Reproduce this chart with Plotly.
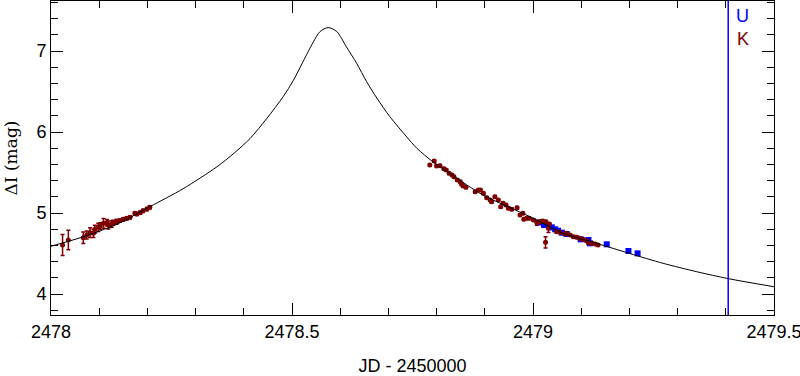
import plotly.graph_objects as go

# Model curve
model_jd = [2478.0, 2478.067, 2478.136, 2478.205, 2478.274, 2478.344, 2478.380, 2478.413, 2478.448,
            2478.482, 2478.503, 2478.523, 2478.544, 2478.558, 2478.575, 2478.593, 2478.613,
            2478.634, 2478.655, 2478.676, 2478.703, 2478.738, 2478.759, 2478.793, 2478.828,
            2478.862, 2478.897, 2478.994, 2479.063, 2479.132, 2479.201, 2479.270, 2479.340,
            2479.405, 2479.5]
model_mag = [4.59, 4.707, 4.86, 5.078, 5.30, 5.57, 5.74, 5.92, 6.17,
             6.44, 6.64, 6.87, 7.11, 7.24, 7.29, 7.24, 7.05,
             6.85, 6.62, 6.42, 6.19, 5.94, 5.80, 5.63, 5.49,
             5.35, 5.22, 4.954, 4.75, 4.626, 4.50, 4.379, 4.275,
             4.19, 4.09]

# K data (dark red)
k_jd = [2478.024, 2478.036, 2478.067, 2478.074, 2478.081, 2478.088, 2478.091, 2478.098,
        2478.102, 2478.109, 2478.116, 2478.119, 2478.126, 2478.129, 2478.136, 2478.143,
        2478.150, 2478.157, 2478.164, 2478.174, 2478.178, 2478.185, 2478.191, 2478.199,
        2478.205,
        2478.786, 2478.795, 2478.800, 2478.807, 2478.815, 2478.820, 2478.826, 2478.832,
        2478.836, 2478.843, 2478.849, 2478.852, 2478.855, 2478.861, 2478.880, 2478.887,
        2478.891, 2478.897, 2478.904, 2478.911, 2478.914, 2478.921, 2478.928, 2478.933,
        2478.938, 2478.944, 2478.949, 2478.956, 2478.967, 2478.973, 2478.979, 2478.981,
        2478.987, 2478.992, 2479.001, 2479.008, 2479.015, 2479.020, 2479.027, 2479.034,
        2479.032, 2479.026, 2479.049, 2479.056, 2479.066, 2479.070, 2479.077, 2479.084,
        2479.091, 2479.097, 2479.104, 2479.111, 2479.115, 2479.122, 2479.129, 2479.135]
k_mag = [4.605, 4.667, 4.695, 4.728, 4.757, 4.749, 4.799, 4.823,
         4.840, 4.873, 4.880, 4.852, 4.864, 4.880, 4.893, 4.905,
         4.922, 4.935, 4.947, 4.996, 4.988, 5.004, 5.028, 5.049,
         5.070,
         5.593, 5.642, 5.580, 5.584, 5.547, 5.531, 5.490, 5.469,
         5.448, 5.407, 5.386, 5.354, 5.333, 5.317, 5.263, 5.284,
         5.284, 5.243, 5.189, 5.160, 5.140, 5.201, 5.160, 5.078,
         5.120, 5.099, 5.058, 5.046, 5.065, 4.975, 4.996, 4.922,
         4.935, 4.935, 4.914, 4.880, 4.893, 4.901, 4.893, 4.864,
         4.811, 4.638, 4.769, 4.762, 4.741, 4.749, 4.728, 4.707,
         4.700, 4.688, 4.675, 4.658, 4.633, 4.626, 4.617, 4.605]
k_err = [0.13, 0.12, 0.07, 0.05, 0.06, 0.05, 0.05, 0.05,
         0.04, 0.06, 0.04, 0.05, 0.04, 0.03, 0.03, 0.02,
         0.02, 0.02, 0.02, 0.02, 0.02, 0.02, 0.02, 0.02,
         0.02,
         0.015, 0.015, 0.015, 0.015, 0.015, 0.015, 0.015, 0.015,
         0.015, 0.015, 0.015, 0.015, 0.015, 0.015, 0.015, 0.015,
         0.015, 0.015, 0.015, 0.015, 0.015, 0.015, 0.015, 0.015,
         0.015, 0.015, 0.015, 0.015, 0.015, 0.015, 0.015, 0.015,
         0.015, 0.015, 0.015, 0.03, 0.015, 0.015, 0.015, 0.015,
         0.05, 0.07, 0.015, 0.015, 0.015, 0.015, 0.015, 0.015,
         0.015, 0.015, 0.015, 0.015, 0.015, 0.015, 0.015, 0.015]

# U data (blue)
u_jd = [2479.016, 2479.023, 2479.039, 2479.046, 2479.052, 2479.060, 2479.070, 2479.099,
        2479.115, 2479.118, 2479.153, 2479.198, 2479.217]
u_mag = [4.883, 4.852, 4.823, 4.799, 4.781, 4.757, 4.741, 4.675,
         4.667, 4.626, 4.614, 4.531, 4.502]

marker_jd = 2479.405

x_ticks = [2478, 2478.5, 2479, 2479.5]
x_ticklabels = ["2478", "2478.5", "2479", "2479.5"]
y_ticks = [4, 5, 6, 7]
y_ticklabels = ["4", "5", "6", "7"]

RED = "#800000"
BLUE = "#0000ff"

fig = go.Figure()
fig.add_trace(go.Scatter(
    x=u_jd, y=u_mag, mode="markers",
    marker=dict(color=BLUE, size=6, symbol="square"), showlegend=False))
fig.add_trace(go.Scatter(
    x=k_jd, y=k_mag, mode="markers",
    marker=dict(color=RED, size=5),
    error_y=dict(type="data", array=k_err, color=RED, thickness=1.5, width=2),
    showlegend=False))
fig.add_trace(go.Scatter(
    x=model_jd, y=model_mag, mode="lines",
    line=dict(color="black", width=1, shape="spline", smoothing=0.8),
    showlegend=False))

fig.add_vline(x=marker_jd, line=dict(color=BLUE, width=1.5))

fig.add_annotation(x=0.957, y=0.952, xref="paper", yref="paper", text="U",
                   xanchor="center", yanchor="middle",
                   showarrow=False, font=dict(family="Liberation Sans", size=18, color=BLUE))
fig.add_annotation(x=0.957, y=0.879, xref="paper", yref="paper", text="K",
                   xanchor="center", yanchor="middle",
                   showarrow=False, font=dict(family="Liberation Sans", size=18, color=RED))

axis_common = dict(
    showline=True, linecolor="black", linewidth=1, mirror="allticks",
    ticks="inside", ticklen=12, tickwidth=1, tickcolor="black",
    showgrid=False, zeroline=False, automargin=False, ticklabeloverflow="allow",
    tickfont=dict(family="Liberation Sans", size=18, color="black"),
)

fig.update_xaxes(
    range=[2477.99999, 2479.50001], tickmode="array", tickvals=x_ticks, ticktext=x_ticklabels,
    minor=dict(dtick=0.1, tick0=2478, ticks="inside", ticklen=7, tickcolor="black", showgrid=False),
    title=dict(text="JD - 2450000", font=dict(family="Liberation Sans", size=18, color="black"),
               standoff=18),
    **axis_common)
fig.update_yaxes(
    range=[3.741, 7.618], tickmode="array", tickvals=y_ticks, ticktext=y_ticklabels,
    minor=dict(dtick=0.2, tick0=0, ticks="inside", ticklen=7, tickcolor="black", showgrid=False),
    title=dict(text="ΔI (mag)", font=dict(family="DejaVu Serif", size=17, color="black"),
               standoff=14),
    **axis_common)

fig.update_layout(
    width=800, height=376,
    margin=dict(l=51, r=26, t=1, b=61),
    paper_bgcolor="white", plot_bgcolor="white",
)

fig.write_html("out.html",
               config={"displayModeBar": False},
               post_script="document.body.style.margin='0';document.body.style.overflow='hidden';")
